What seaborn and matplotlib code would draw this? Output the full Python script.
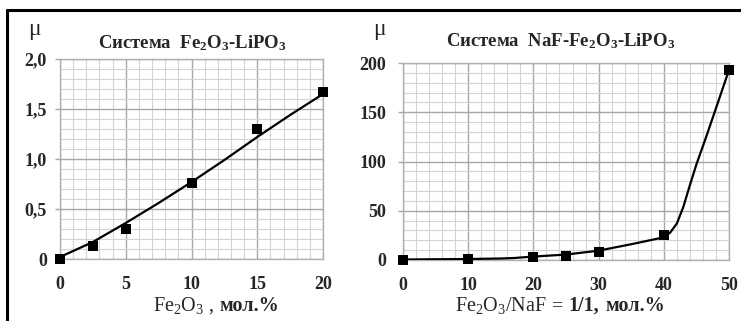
import matplotlib
matplotlib.use("Agg")
import matplotlib.pyplot as plt
import seaborn as sns
import pandas as pd
from matplotlib.ticker import MultipleLocator, FixedLocator, FixedFormatter
from matplotlib.lines import Line2D

# ---- data ----
left_x = [0, 2.5, 5, 10, 15, 20]
left_mu = [0.0, 0.13, 0.30, 0.76, 1.30, 1.67]
left_curve_x = [0, 2.5, 5, 7.5, 10, 12.5, 15, 17.5, 20]
left_curve_mu = [0.02, 0.17, 0.36, 0.56, 0.77, 0.99, 1.22, 1.44, 1.65]
left_yticks = [0, 0.5, 1.0, 1.5, 2.0]
left_yticklabels = ["0", "0,5", "1,0", "1,5", "2,0"]
left_xticks = [0, 5, 10, 15, 20]

right_x = [0, 10, 20, 25, 30, 40, 50]
right_mu = [0.5, 1.0, 3.0, 4.0, 8.0, 25.0, 193.0]
right_curve_x = [0, 10, 15, 17, 20, 25, 30, 35, 40, 41, 42, 43, 44, 45, 46.5, 48, 50]
right_curve_mu = [0.5, 1.0, 1.5, 2.0, 3.5, 5.5, 9.5, 16, 23, 28, 37, 54, 76, 97, 125, 154, 193]
right_yticks = [0, 50, 100, 150, 200]
right_xticks = [0, 10, 20, 30, 40, 50]

sns.set_theme(style="white")
plt.rcParams['font.family'] = ['Liberation Serif', 'DejaVu Serif']
plt.rcParams['mathtext.fontset'] = 'custom'
plt.rcParams['mathtext.rm'] = 'Liberation Serif'
plt.rcParams['mathtext.bf'] = 'Liberation Serif:bold'
plt.rcParams['mathtext.it'] = 'Liberation Serif:italic'

W, H = 741, 321
fig = plt.figure(figsize=(W / 100, H / 100), dpi=100)
fig.patch.set_facecolor("white")

def fx(px):
    return px / W

def fy(py):
    return 1 - py / H

axL = fig.add_axes([fx(60), fy(259), fx(323 - 60), (259 - 59) / H])
axR = fig.add_axes([fx(403), fy(260), fx(729 - 403), (260 - 63) / H])

dfL = pd.DataFrame({"x": left_x, "mu": left_mu})
dfLc = pd.DataFrame({"x": left_curve_x, "mu": left_curve_mu})
dfR = pd.DataFrame({"x": right_x, "mu": right_mu})
dfRc = pd.DataFrame({"x": right_curve_x, "mu": right_curve_mu})

for ax, dfc, dfm in [(axL, dfLc, dfL), (axR, dfRc, dfR)]:
    sns.lineplot(data=dfc, x="x", y="mu", ax=ax, color="black", lw=1.6, zorder=3)
    sns.scatterplot(data=dfm, x="x", y="mu", ax=ax, marker="s", s=60, color="black",
                    edgecolor="black", linewidth=0, zorder=4, clip_on=False)
    ax.set_xlabel("")
    ax.set_ylabel("")
    for sp in ax.spines.values():
        sp.set_color("#b0b0b0")
        sp.set_linewidth(1.0)
    ax.grid(which="major", color="#a8a8a8", lw=1.0)
    ax.grid(which="minor", color="#d4d4d4", lw=0.8)
    ax.set_axisbelow(True)

axL.set_xlim(0, 20)
axL.set_ylim(0, 2.0)
axL.xaxis.set_major_locator(FixedLocator(left_xticks))
axL.xaxis.set_minor_locator(MultipleLocator(1))
axL.yaxis.set_major_locator(FixedLocator(left_yticks))
axL.yaxis.set_major_formatter(FixedFormatter(left_yticklabels))
axL.yaxis.set_minor_locator(MultipleLocator(0.1))

axR.set_xlim(0, 50)
axR.set_ylim(0, 200)
axR.xaxis.set_major_locator(FixedLocator(right_xticks))
axR.xaxis.set_minor_locator(MultipleLocator(2))
axR.yaxis.set_major_locator(FixedLocator(right_yticks))
axR.yaxis.set_minor_locator(MultipleLocator(10))

for ax, ypad in [(axL, 6), (axR, 8.5)]:
    ax.tick_params(which="minor", length=0)
    ax.tick_params(axis="y", which="major", direction="out", length=3.5, width=1.0,
                   color="#a8a8a8", pad=ypad, left=True)
    ax.tick_params(axis="x", which="major", length=0, pad=12)
    for lab in ax.get_xticklabels() + ax.get_yticklabels():
        lab.set_fontweight("bold")
        lab.set_fontsize(13)

# titles
fig.text(fx(192), fy(43), r"Система  F$\mathbf{e_2O_3}$-L$\mathbf{iPO_3}$",
         ha="center", va="center", fontsize=13.5, fontweight="bold")
fig.text(fx(561), fy(41), r"Система  NaF-F$\mathbf{e_2O_3}$-L$\mathbf{iPO_3}$",
         ha="center", va="center", fontsize=13.5, fontweight="bold")

# mu labels
fig.text(fx(34), fy(30), "μ", ha="center", va="center", fontsize=17)
fig.text(fx(379), fy(29), "μ", ha="center", va="center", fontsize=17)

# x labels: pieces of mixed weight placed one after another on a common baseline
renderer = fig.canvas.get_renderer()

def seq_label(x_px, base_px, parts, size=14.5):
    x = x_px
    for text, weight, gap in parts:
        t = fig.text(fx(x), fy(base_px), text, ha="left", va="baseline",
                     fontsize=size, fontweight=weight)
        bb = t.get_window_extent(renderer)
        x = bb.x1 + gap

seq_label(153, 311, [(r"Fe$_2$O$_3$", "normal", 4), (",", "normal", 6),
                     ("мол.%", "bold", 0)])
seq_label(455, 311, [(r"Fe$_2$O$_3$/NaF", "normal", 5), ("=", "normal", 5),
                     ("1/1,", "bold", 7), ("мол.%", "bold", 0)])

# frame lines
fig.add_artist(Line2D([fx(7), 1.0], [fy(10), fy(10)], color="black", lw=2.2))
fig.add_artist(Line2D([fx(7), fx(7)], [fy(10), 0.0], color="black", lw=2.2))

fig.savefig("out.png", dpi=100)
